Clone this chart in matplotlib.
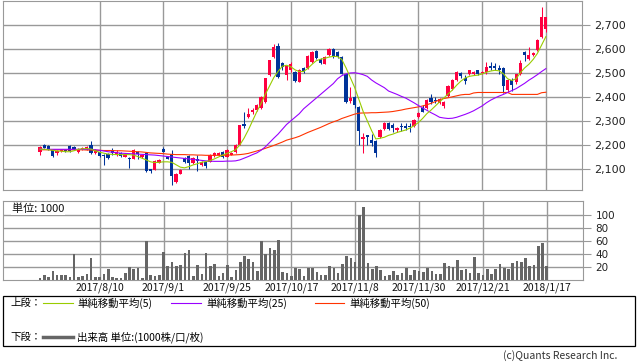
import matplotlib
matplotlib.use("Agg")
import matplotlib.pyplot as plt
from matplotlib.patches import Rectangle
from matplotlib.ticker import FuncFormatter

plt.rcParams['font.family'] = ['Noto Sans CJK JP', 'DejaVu Sans']

W, H = 638, 362

# --------- data ---------
date_labels = ["2017/8/10", "2017/9/1", "2017/9/25", "2017/10/17",
               "2017/11/8", "2017/11/30", "2017/12/21", "2018/1/17"]
date_idx = [14, 29, 44, 59, 74, 89, 104, 119]

opens = [2172, 2200, 2195, 2180, 2168, 2175, 2180, 2196, 2192, 2172,
         2185, 2184, 2200, 2167, 2172, 2160, 2163, 2180, 2160, 2167,
         2151, 2146, 2142, 2172, 2150, 2167, 2100, 2097, 2126, 2184,
         2150, 2163, 2047, 2080, 2146, 2155, 2125, 2140, 2117, 2130,
         2130, 2155, 2158, 2170, 2150, 2160, 2171, 2200, 2287, 2316,
         2336, 2345, 2353, 2379, 2489, 2564, 2613, 2539, 2489, 2510,
         2503, 2462, 2518, 2518, 2544, 2590, 2555, 2537, 2572, 2600,
         2586, 2565, 2493, 2383, 2400, 2358, 2225, 2241, 2221, 2218,
         2234, 2266, 2291, 2285, 2262, 2279, 2280, 2278, 2279, 2317,
         2353, 2354, 2394, 2388, 2375, 2362, 2404, 2434, 2469, 2499,
         2480, 2493, 2493, 2510, 2498, 2503, 2527, 2527, 2520, 2520,
         2427, 2469, 2462, 2493, 2586, 2555, 2575, 2593, 2650, 2680]
highs = [2195, 2205, 2198, 2182, 2178, 2182, 2183, 2200, 2195, 2188,
         2192, 2196, 2217, 2182, 2175, 2162, 2165, 2186, 2178, 2170,
         2166, 2150, 2182, 2175, 2160, 2170, 2102, 2136, 2140, 2190,
         2155, 2180, 2082, 2099, 2150, 2158, 2148, 2160, 2132, 2135,
         2162, 2170, 2170, 2174, 2182, 2170, 2202, 2285, 2337, 2353,
         2352, 2370, 2402, 2480, 2553, 2621, 2625, 2545, 2530, 2545,
         2508, 2515, 2522, 2572, 2590, 2595, 2560, 2570, 2603, 2603,
         2590, 2568, 2495, 2441, 2405, 2362, 2250, 2243, 2245, 2222,
         2265, 2295, 2296, 2292, 2276, 2290, 2292, 2290, 2306, 2335,
         2366, 2389, 2410, 2400, 2395, 2382, 2448, 2475, 2506, 2505,
         2490, 2512, 2506, 2513, 2508, 2545, 2545, 2540, 2532, 2525,
         2472, 2480, 2496, 2551, 2590, 2605, 2588, 2640, 2775, 2732]
lows = [2160, 2186, 2180, 2152, 2160, 2170, 2172, 2172, 2180, 2168,
        2180, 2180, 2163, 2162, 2150, 2118, 2140, 2160, 2155, 2150,
        2148, 2105, 2140, 2142, 2146, 2088, 2082, 2095, 2124, 2170,
        2140, 2035, 2042, 2078, 2125, 2100, 2122, 2093, 2112, 2105,
        2128, 2152, 2155, 2145, 2148, 2158, 2168, 2198, 2270, 2312,
        2330, 2340, 2350, 2375, 2485, 2560, 2478, 2510, 2470, 2505,
        2462, 2460, 2500, 2515, 2540, 2555, 2535, 2535, 2570, 2560,
        2560, 2493, 2375, 2375, 2355, 2200, 2165, 2200, 2195, 2150,
        2230, 2262, 2262, 2255, 2255, 2258, 2262, 2255, 2276, 2314,
        2335, 2350, 2370, 2375, 2372, 2355, 2400, 2430, 2466, 2480,
        2455, 2490, 2490, 2490, 2495, 2495, 2510, 2512, 2495, 2415,
        2418, 2425, 2452, 2490, 2550, 2553, 2570, 2590, 2645, 2670]
closes = [2192, 2188, 2184, 2155, 2175, 2178, 2176, 2175, 2184, 2184,
          2188, 2192, 2167, 2180, 2155, 2155, 2146, 2167, 2172, 2155,
          2163, 2142, 2179, 2163, 2158, 2093, 2090, 2134, 2138, 2172,
          2142, 2072, 2080, 2097, 2130, 2125, 2145, 2135, 2130, 2112,
          2159, 2167, 2167, 2150, 2180, 2167, 2200, 2283, 2278, 2328,
          2347, 2365, 2400, 2477, 2551, 2605, 2482, 2524, 2527, 2535,
          2466, 2510, 2505, 2568, 2586, 2562, 2539, 2565, 2600, 2565,
          2565, 2496, 2379, 2397, 2365, 2259, 2232, 2233, 2210, 2168,
          2262, 2291, 2268, 2270, 2272, 2273, 2272, 2274, 2303, 2332,
          2338, 2386, 2378, 2384, 2390, 2379, 2445, 2469, 2503, 2485,
          2466, 2510, 2503, 2493, 2505, 2524, 2520, 2520, 2510, 2444,
          2469, 2448, 2493, 2540, 2572, 2575, 2584, 2637, 2730, 2730]

ma5 = [2183, 2182, 2180, 2178, 2175, 2174, 2172, 2172, 2176, 2182,
       2184, 2185, 2183, 2176, 2170, 2166, 2162, 2161, 2160, 2160,
       2160, 2160, 2158, 2152, 2145, 2138, 2130, 2127, 2128, 2130,
       2130, 2128, 2118, 2108, 2105, 2110, 2117, 2122, 2128, 2131,
       2135, 2142, 2150, 2158, 2165, 2172, 2180, 2200, 2228, 2262,
       2300, 2338, 2372, 2410, 2445, 2480, 2505, 2527, 2531, 2525,
       2512, 2505, 2505, 2518, 2535, 2550, 2556, 2560, 2565, 2568,
       2567, 2555, 2520, 2480, 2440, 2390, 2340, 2300, 2260, 2225,
       2228, 2232, 2240, 2245, 2252, 2257, 2262, 2270, 2280, 2293,
       2310, 2330, 2345, 2362, 2379, 2395, 2412, 2428, 2448, 2465,
       2478, 2485, 2488, 2490, 2495, 2502, 2507, 2510, 2508, 2496,
       2475, 2468, 2475, 2500, 2520, 2535, 2555, 2580, 2615, 2650]
ma25 = [2182, 2182, 2182, 2182, 2182, 2182, 2182, 2182, 2182, 2182,
        2182, 2182, 2182, 2180, 2178, 2175, 2172, 2170, 2168, 2166,
        2165, 2164, 2163, 2162, 2161, 2160, 2159, 2158, 2156, 2154,
        2152, 2150, 2148, 2146, 2144, 2142, 2140, 2138, 2136, 2134,
        2133, 2132, 2132, 2132, 2133, 2133, 2134, 2138, 2145, 2152,
        2160, 2167, 2178, 2192, 2210, 2228, 2245, 2265, 2285, 2300,
        2315, 2330, 2350, 2365, 2380, 2395, 2410, 2425, 2440, 2455,
        2475, 2488, 2495, 2499, 2500, 2497, 2492, 2485, 2470, 2458,
        2448, 2438, 2424, 2417, 2410, 2402, 2395, 2385, 2375, 2364,
        2354, 2344, 2334, 2325, 2315, 2312, 2310, 2311, 2315, 2321,
        2327, 2334, 2342, 2352, 2362, 2375, 2386, 2395, 2403, 2410,
        2418, 2426, 2434, 2445, 2456, 2469, 2480, 2492, 2505, 2517]
ma50 = [2180, 2180, 2180, 2180, 2180, 2180, 2180, 2180, 2180, 2180,
        2180, 2179, 2179, 2178, 2178, 2177, 2177, 2177, 2176, 2176,
        2175, 2174, 2173, 2172, 2171, 2169, 2167, 2166, 2165, 2164,
        2162, 2161, 2160, 2160, 2160, 2159, 2159, 2158, 2158, 2157,
        2157, 2157, 2157, 2157, 2158, 2158, 2159, 2160, 2162, 2165,
        2170, 2175, 2180, 2186, 2192, 2198, 2205, 2212, 2220, 2225,
        2230, 2236, 2244, 2252, 2259, 2266, 2273, 2281, 2289, 2296,
        2302, 2310, 2316, 2322, 2328, 2332, 2333, 2333, 2334, 2334,
        2335, 2336, 2337, 2339, 2342, 2345, 2349, 2352, 2355, 2358,
        2362, 2367, 2373, 2380, 2388, 2393, 2396, 2400, 2404, 2408,
        2410, 2410, 2416, 2418, 2418, 2418, 2418, 2418, 2418, 2418,
        2418, 2410, 2410, 2410, 2410, 2410, 2410, 2410, 2417, 2419]

volume = [3.6, 7.7, 5, 13.8, 7.7, 7.7, 7.7, 5, 39.5, 5,
          6.7, 8.7, 34.4, 5, 5, 8.7, 16.9, 5, 3.6, 3.6,
          10.3, 20, 16.9, 19, 3.6, 60, 7.7, 6.7, 7.7, 43.6,
          22, 28, 22, 23, 41, 46, 6.7, 23, 9.7, 42,
          22, 24.6, 6.7, 10.3, 23, 5, 15.4, 28, 36, 32.3,
          28, 13.8, 59, 39.5, 49.7, 46, 61.5, 12.8, 11.3, 6.7,
          18, 16.4, 6.7, 18, 19, 12.8, 7.7, 7.7, 21.5, 19,
          11.3, 25, 37, 34.4, 28, 99, 112, 25.6, 17, 22,
          15.4, 6, 7.7, 13.8, 7.7, 11.3, 19, 7.7, 15.4, 13.8,
          12.8, 19, 13.8, 9.2, 9.2, 25.6, 21.5, 20, 31, 15.4,
          17, 10.3, 35.4, 10.3, 7.7, 17, 9.2, 17, 24.6, 19,
          17, 25.6, 29, 28, 34.4, 21.5, 23, 52, 57, 21.5]

RED = "#ff0040"
BLUE = "#003399"
C_MA5 = "#99cc00"
C_MA25 = "#9900ff"
C_MA50 = "#ff3300"
GRID = "#999999"


def px_box(l, t, r, b):
    return [l / W, 1 - b / H, (r - l) / W, (b - t) / H]


fig = plt.figure(figsize=(W / 100, H / 100), dpi=100)

# --------- upper panel: candles + moving averages ---------
ax = fig.add_axes(px_box(3, 0.5, 582, 190))
x = list(range(len(closes)))
colors = [RED if c >= o else BLUE for o, c in zip(opens, closes)]
bottoms = [min(o, c) for o, c in zip(opens, closes)]
heights = [max(abs(c - o), 2) for o, c in zip(opens, closes)]

ax.vlines(x, lows, highs, colors=colors, lw=0.75, zorder=2)
ax.bar(x, heights, bottom=bottoms, width=0.75, color=colors, lw=0, zorder=3)
ax.plot(x, ma50, color=C_MA50, lw=0.8, zorder=4)
ax.plot(x, ma25, color=C_MA25, lw=0.8, zorder=4)
ax.plot(x, ma5, color=C_MA5, lw=0.8, zorder=4)

ax.set_xlim(-8.7, 127.5)
ax.set_ylim(2013, 2800)
ax.set_yticks([2100, 2200, 2300, 2400, 2500, 2600, 2700])
ax.yaxis.set_major_formatter(FuncFormatter(lambda v, p: f"{int(v):,}"))
ax.yaxis.tick_right()
ax.set_xticks(date_idx)
ax.tick_params(axis="x", length=0, labelbottom=False)
ax.tick_params(axis="y", length=6, color=GRID, labelsize=8, pad=3,
               labelcolor="#222222")
for lab in ax.get_yticklabels():
    lab.set_family("DejaVu Sans")
ax.grid(True, color=GRID, lw=1)
ax.set_axisbelow(True)
for s in ax.spines.values():
    s.set_color(GRID)

# --------- lower panel: volume ---------
axv = fig.add_axes(px_box(3, 201, 583, 280))
axv.bar(x, volume, width=0.62, color="#666666", lw=0, zorder=3)
axv.set_xlim(-8.7, 127.5)
axv.set_ylim(0, 121)
axv.set_yticks([20, 40, 60, 80, 100])
axv.yaxis.tick_right()
axv.set_xticks(date_idx)
axv.set_xticklabels(date_labels, fontsize=7.5, color="#111111")
axv.tick_params(axis="x", length=0, pad=2)
axv.tick_params(axis="y", length=6, color=GRID, labelsize=7.5, pad=3,
                labelcolor="#222222")
for lab in axv.get_yticklabels():
    lab.set_family("DejaVu Sans")
axv.grid(True, color=GRID, lw=1)
axv.set_axisbelow(True)
for s in axv.spines.values():
    s.set_color(GRID)

# --------- legend / captions (pixel overlay) ---------
ov = fig.add_axes([0, 0, 1, 1], facecolor="none")
ov.set_xlim(0, W)
ov.set_ylim(H, 0)
ov.axis("off")

ov.text(12, 209, "単位: 1000", fontsize=8, va="center", ha="left",
        color="#111111", bbox=dict(fc="white", ec="none", pad=0.5))

ov.add_patch(Rectangle((3, 296), 632, 50, fill=False, ec="black", lw=0.9))
fs = 7.5
ov.text(10, 303, "上段：", fontsize=fs, va="center")
ov.plot([43, 73], [303, 303], color=C_MA5, lw=0.8)
ov.text(77, 303, "単純移動平均(5)", fontsize=fs, va="center")
ov.plot([171, 201], [303, 303], color=C_MA25, lw=0.8)
ov.text(206, 303, "単純移動平均(25)", fontsize=fs, va="center")
ov.plot([315, 344], [303, 303], color=C_MA50, lw=0.8)
ov.text(349, 303, "単純移動平均(50)", fontsize=fs, va="center")

ov.text(10, 337, "下段：", fontsize=fs, va="center")
ov.plot([43, 73], [337, 337], color="#666666", lw=2.5)
ov.text(77, 337, "出来高 単位:(1000株/口/枚)", fontsize=fs, va="center")

ov.text(617, 356, "(c)Quants Research Inc.", fontsize=7.5, ha="right",
        va="center", color="#333333")

fig.savefig("out.png", dpi=100)
